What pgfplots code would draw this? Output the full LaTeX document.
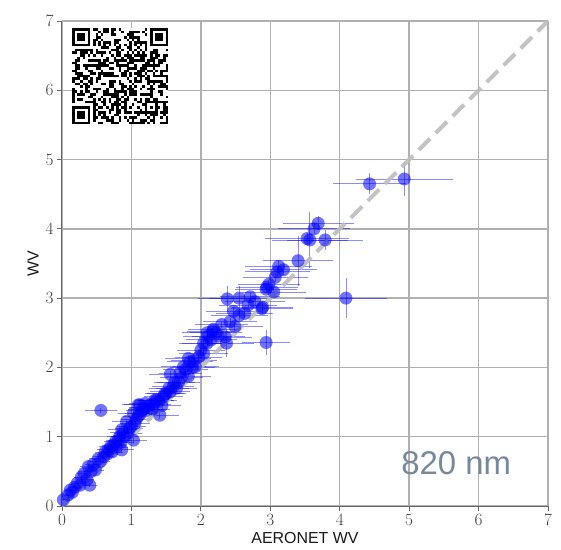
\documentclass[border=0pt]{standalone}
\usepackage{fontspec}
\setsansfont{Liberation Sans}
\usepackage{pgfplots}
\pgfplotsset{compat=1.18}
\usepackage{pgfplotstable}
\usepackage{qrcode}
\definecolor{slate}{HTML}{778899}
\definecolor{gridgray}{HTML}{B0B0B0}
\definecolor{dashgray}{HTML}{BDBDBD}

\pgfplotstableread{
x y ex ey
0.02 0.09 0.05 0.02
0.09 0.16 0.06 0.02
0.12 0.23 0.07 0.02
0.15 0.20 0.07 0.02
0.18 0.27 0.08 0.02
0.22 0.33 0.08 0.02
0.26 0.30 0.09 0.03
0.28 0.42 0.10 0.03
0.32 0.47 0.10 0.03
0.36 0.38 0.10 0.03
0.40 0.30 0.10 0.03
0.38 0.57 0.12 0.03
0.42 0.50 0.12 0.03
0.48 0.52 0.12 0.03
0.45 0.60 0.12 0.03
0.52 0.68 0.13 0.03
0.55 0.64 0.14 0.03
0.60 0.71 0.15 0.03
0.62 0.78 0.15 0.03
0.65 0.75 0.15 0.03
0.67 0.81 0.16 0.03
0.70 0.86 0.16 0.03
0.72 0.78 0.16 0.03
0.74 0.88 0.17 0.04
0.77 0.93 0.17 0.04
0.78 0.85 0.17 0.04
0.81 0.95 0.18 0.04
0.83 1.00 0.18 0.04
0.86 0.81 0.18 0.04
0.85 0.92 0.18 0.04
0.88 1.06 0.19 0.04
0.90 1.00 0.19 0.04
0.86 1.10 0.20 0.04
0.95 1.05 0.20 0.04
0.97 1.12 0.20 0.04
1.03 0.95 0.20 0.04
0.93 1.22 0.21 0.04
1.00 1.15 0.21 0.04
1.05 1.19 0.22 0.04
1.07 1.25 0.22 0.04
1.03 1.34 0.22 0.04
1.10 1.30 0.22 0.04
1.13 1.33 0.22 0.04
1.10 1.46 0.23 0.04
1.15 1.38 0.23 0.04
1.12 1.46 0.23 0.04
1.18 1.40 0.23 0.04
1.20 1.43 0.24 0.04
1.20 1.48 0.24 0.04
1.25 1.40 0.24 0.04
1.27 1.46 0.25 0.05
1.30 1.40 0.25 0.05
1.32 1.47 0.25 0.05
1.34 1.53 0.26 0.05
1.36 1.53 0.26 0.05
1.40 1.52 0.26 0.05
1.41 1.31 0.27 0.05
1.44 1.45 0.27 0.05
1.46 1.58 0.28 0.05
1.48 1.62 0.28 0.05
1.50 1.62 0.28 0.05
1.54 1.70 0.29 0.05
1.56 1.65 0.29 0.05
1.60 1.72 0.30 0.05
1.62 1.78 0.30 0.05
1.56 1.90 0.30 0.05
1.65 1.70 0.30 0.05
1.68 1.79 0.31 0.05
1.70 1.92 0.31 0.05
1.72 1.85 0.31 0.05
1.75 2.01 0.32 0.05
1.78 1.97 0.32 0.05
1.82 1.87 0.32 0.05
1.82 2.13 0.33 0.05
1.84 2.08 0.33 0.05
1.88 2.00 0.33 0.05
1.90 2.10 0.33 0.05
1.92 2.01 0.34 0.05
1.97 2.15 0.34 0.05
2.00 2.25 0.35 0.05
2.04 2.20 0.35 0.05
2.04 2.35 0.35 0.05
2.09 2.35 0.36 0.05
2.10 2.45 0.36 0.05
2.09 2.50 0.36 0.05
2.15 2.40 0.37 0.05
2.17 2.52 0.37 0.05
2.18 2.55 0.37 0.05
2.22 2.50 0.37 0.05
2.25 2.45 0.38 0.05
2.30 2.62 0.38 0.05
2.35 2.44 0.38 0.05
2.37 2.35 0.39 0.20
2.42 2.66 0.39 0.06
2.49 2.59 0.40 0.06
2.47 2.81 0.40 0.06
2.55 2.75 0.41 0.06
2.63 2.78 0.41 0.06
2.68 2.90 0.42 0.06
2.38 2.99 0.42 0.19
2.55 3.00 0.43 0.18
2.71 3.02 0.43 0.06
2.78 2.95 0.43 0.06
2.88 2.85 0.44 0.06
2.89 2.87 0.44 0.06
2.94 3.13 0.45 0.06
2.95 3.16 0.45 0.06
2.98 3.20 0.45 0.06
3.05 3.09 0.46 0.06
2.94 2.36 0.35 0.18
3.07 3.30 0.47 0.07
3.10 3.38 0.47 0.07
3.12 3.46 0.48 0.07
3.19 3.41 0.48 0.07
3.40 3.54 0.50 0.36
3.53 3.86 0.60 0.08
3.57 3.84 0.55 0.40
3.63 4.00 0.52 0.08
3.69 4.08 0.51 0.10
3.79 3.84 0.55 0.15
4.09 3.00 0.59 0.29
4.43 4.65 0.52 0.15
4.93 4.72 0.70 0.25
0.56 1.38 0.23 0.04
}\wvdata

\begin{document}
\begin{tikzpicture}
\begin{axis}[
  name=ax,
  scale only axis,
  width=486bp, height=485bp,
  xmin=0, xmax=7, ymin=0, ymax=7,
  xtick={0,1,...,7}, ytick={0,1,...,7},
  axis x line*=bottom, axis y line*=left,
  axis line style={-, line width=1bp, color=black!60},
  grid=major,
  grid style={line width=1.4bp, color=gridgray},
  tick align=outside,
  major tick length=5bp,
  tick style={line width=0.8bp, color=black!60},
  ticklabel style={font=\fontsize{16}{18}\selectfont, color=black!75},
  xlabel={AERONET WV}, ylabel={WV},
  label style={font=\sffamily\fontsize{16}{19}\selectfont, color=black!90},
  clip=true,
]
\addplot[
  color=blue, only marks, mark=*, mark size=6.5bp,
  mark options={draw opacity=0, fill=blue, fill opacity=0.55},
  error bars/.cd,
    x dir=both, x explicit, y dir=both, y explicit,
    error mark=none,
    error bar style={blue, line width=0.8bp, opacity=0.45},
] table[x=x, y=y, x error=ex, y error=ey] {\wvdata};
\addplot[color=dashgray, line width=4bp, dash pattern=on 16bp off 8bp, opacity=0.9] coordinates {(0,0) (7,7)};
\node[anchor=base west, font=\sffamily\fontsize{33}{36}\selectfont, text=slate, inner sep=0pt] at (axis cs:4.885,0.45) {820 nm};
\node[anchor=north west, fill=white, inner sep=0pt] at (axis cs:0.144,6.90) {\qrcode[height=96bp, version=5, nolink]{https://aeronet.gsfc.nasa.gov/new_web/index.html}};
\end{axis}
\pgfresetboundingbox
\path[use as bounding box] ([shift={(-62bp,-44bp)}]ax.south west) rectangle ([shift={(13bp,21bp)}]ax.north east);
\end{tikzpicture}
\end{document}
